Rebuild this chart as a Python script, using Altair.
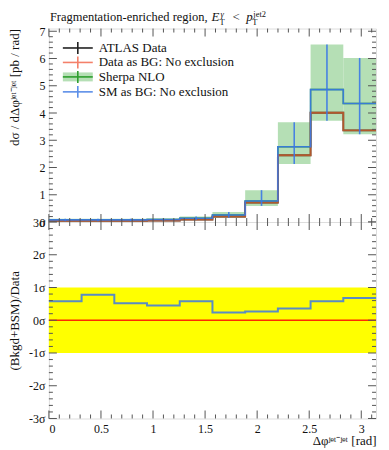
import altair as alt
import pandas as pd

PI = 3.141592653589793
# bin edges (10 bins of pi/10)
edges = [i * PI / 10 for i in range(11)]
centers = [(edges[i] + edges[i + 1]) / 2 for i in range(10)]

# top panel values (pb/rad)
data_vals = [0.04, 0.04, 0.04, 0.05, 0.09, 0.20, 0.71, 2.45, 4.01, 3.36]
sm_vals = [0.08, 0.08, 0.08, 0.09, 0.14, 0.26, 0.77, 2.76, 4.86, 4.35]
band_lo = [0.03, 0.03, 0.03, 0.04, 0.07, 0.16, 0.59, 2.13, 3.72, 3.22]
band_hi = [0.12, 0.12, 0.12, 0.13, 0.20, 0.37, 1.17, 3.66, 6.51, 6.02]
# lower panel (sigma)
ratio_sigma = [0.58, 0.78, 0.52, 0.45, 0.58, 0.24, 0.27, 0.36, 0.58, 0.68]

x_major = [0, 0.5, 1, 1.5, 2, 2.5, 3]
x_minor = [round(0.1 * i, 1) for i in range(32) if i % 5 != 0]
y1_major = [0, 1, 2, 3, 4, 5, 6, 7]
y1_minor = [round(0.2 * i, 1) for i in range(36) if i % 5 != 0]
y2_major = [-3, -2, -1, 0, 1, 2, 3]
y2_minor = [round(-3 + 0.2 * i, 1) for i in range(31) if i % 5 != 0]

legend_labels = ["ATLAS Data", "Data as BG: No exclusion", "Sherpa NLO", "SM as BG: No exclusion"]
legend_colors = ["#222222", "#f4806a", "#2e9e2e", "#5c8fe8"]

FONT = "Liberation Serif"
W, H1, H2 = 328, 194, 197
FRAME = "#555555"

xs = alt.Scale(domain=[0, PI], nice=False, zero=False)
ys1 = alt.Scale(domain=[0, 7.1], nice=False, zero=False)
ys2 = alt.Scale(domain=[-3, 3], nice=False, zero=False)

yaxis1 = alt.Axis(values=y1_major, ticks=False, tickSize=0, domain=False, grid=False,
                  labelPadding=4, labelFont=FONT, labelFontSize=12, labelColor="#111",
                  title="dσ / dΔφʲᵉᵗ⁻ʲᵉᵗ [pb / rad]", titleFont=FONT, titleFontSize=13,
                  titleFontWeight="normal", titleColor="#111", titleX=-34, titleY=0,
                  titleAlign="right", titleAngle=270, titleBaseline="middle")
yaxis2 = alt.Axis(values=y2_major, ticks=False, tickSize=0, domain=False, grid=False,
                  labelPadding=4, labelFont=FONT, labelFontSize=12, labelColor="#111",
                  labelExpr="datum.value + 'σ'",
                  title="(Bkgd+BSM)/Data", titleFont=FONT, titleFontSize=13,
                  titleFontWeight="normal", titleColor="#111", titleX=-34, titleY=H2 / 2,
                  titleAlign="center", titleAngle=270, titleBaseline="middle")
xaxis2 = alt.Axis(values=x_major, ticks=False, tickSize=0, domain=False, grid=False,
                  format="~g", labelPadding=5, labelFont=FONT, labelFontSize=12,
                  labelColor="#111", title="Δφʲᵉᵗ⁻ʲᵉᵗ [rad]", titleFont=FONT,
                  titleFontSize=13, titleFontWeight="normal", titleColor="#111",
                  titleX=W, titleY=26, titleAlign="right", titleBaseline="alphabetic")


def X(field, ax):
    if ax is None:
        return alt.X(field, scale=xs, axis=None)
    return alt.X(field, scale=xs, axis=ax)


def step_df(vals):
    return pd.DataFrame({"x": edges, "y": vals + [vals[-1]]})


band_df = pd.DataFrame({"lo": edges[:-1], "hi": edges[1:], "c": centers,
                        "blo": band_lo, "bhi": band_hi})

band = alt.Chart(band_df).mark_rect(color="#b5dfb5").encode(
    x=X("lo:Q", None), x2="hi:Q",
    y=alt.Y("blo:Q", scale=ys1, axis=yaxis1), y2="bhi:Q")


def step_line(vals, color, width, opacity=1.0):
    return alt.Chart(step_df(vals)).mark_line(
        interpolate="step-after", color=color, strokeWidth=width, opacity=opacity).encode(
        x=X("x:Q", None), y=alt.Y("y:Q", scale=ys1, axis=yaxis1))


green_line = step_line(sm_vals, "#2e9e2e", 1.5)
black_line = step_line(data_vals, "#222222", 1.8)
red_line = step_line(data_vals, "#f07030", 1.8, 0.7)
blue_line = step_line(sm_vals, "#3b78e7", 1.6, 0.9)
blue_err = alt.Chart(band_df).mark_rule(color="#3b78e7", strokeWidth=1.6, opacity=0.9).encode(
    x=X("c:Q", None), y=alt.Y("blo:Q", scale=ys1, axis=yaxis1), y2="bhi:Q")


def ticks(ys, yax, xax, h, ymaj, ymin):
    layers = []
    for vals, L in [(x_major, 8), (x_minor, 4)]:
        df = pd.DataFrame({"v": vals})
        layers.append(alt.Chart(df).mark_rule(color=FRAME, strokeWidth=1).encode(
            x=X("v:Q", xax), y=alt.value(h), y2=alt.value(h - L)))
        layers.append(alt.Chart(df).mark_rule(color=FRAME, strokeWidth=1).encode(
            x=X("v:Q", xax), y=alt.value(0), y2=alt.value(L)))
    for vals, L in [(ymaj, 8), (ymin, 4)]:
        df = pd.DataFrame({"v": vals})
        layers.append(alt.Chart(df).mark_rule(color=FRAME, strokeWidth=1).encode(
            y=alt.Y("v:Q", scale=ys, axis=yax), x=alt.value(0), x2=alt.value(L)))
        layers.append(alt.Chart(df).mark_rule(color=FRAME, strokeWidth=1).encode(
            y=alt.Y("v:Q", scale=ys, axis=yax), x=alt.value(W - L), x2=alt.value(W)))
    return layers


# legend
leg_y = [19.5, 34, 48.5, 63.5]
leg_layers = []
leg_layers.append(alt.Chart(pd.DataFrame({"a": [0]})).mark_rect(color="#b5dfb5").encode(
    x=alt.value(14), x2=alt.value(44), y=alt.value(leg_y[2] - 4.5), y2=alt.value(leg_y[2] + 4.5)))
for i, (lab, col) in enumerate(zip(legend_labels, legend_colors)):
    d = pd.DataFrame({"t": [lab]})
    leg_layers.append(alt.Chart(d).mark_rule(color=col, strokeWidth=1.6).encode(
        x=alt.value(14), x2=alt.value(44), y=alt.value(leg_y[i])))
    leg_layers.append(alt.Chart(d).mark_rule(color=col, strokeWidth=1.6).encode(
        x=alt.value(29), y=alt.value(leg_y[i] - 6), y2=alt.value(leg_y[i] + 6)))
    leg_layers.append(alt.Chart(d).mark_text(align="left", baseline="middle", font=FONT,
                                             fontSize=13, color="#111").encode(
        x=alt.value(50), y=alt.value(leg_y[i]), text="t:N"))

# title pieces
title_parts = [
    ("Fragmentation-enriched region,", 1, -8, 12.5, "normal"),
    ("E", 163, -8, 13, "italic"),
    ("γ", 172, -12, 8.5, "italic"),
    ("T", 171, -4, 8.5, "normal"),
    ("<", 184, -8, 13, "normal"),
    ("p", 198, -8, 13, "italic"),
    ("jet2", 205, -12, 8.5, "normal"),
    ("T", 204, -4, 8.5, "normal"),
]
title_layers = []
for txt, px, py, fs, st in title_parts:
    title_layers.append(alt.Chart(pd.DataFrame({"t": [txt]})).mark_text(
        align="left", baseline="alphabetic", font=FONT, fontSize=fs, fontStyle=st,
        color="#111").encode(x=alt.value(px), y=alt.value(py), text="t:N"))

top = alt.layer(band, green_line, black_line, red_line, blue_line, blue_err,
                *ticks(ys1, yaxis1, None, H1, y1_major, y1_minor),
                *leg_layers, *title_layers).properties(width=W, height=H1)

# lower panel
yellow = alt.Chart(pd.DataFrame({"lo": [-1], "hi": [1]})).mark_rect(color="#ffff00").encode(
    x=alt.value(0), x2=alt.value(W),
    y=alt.Y("lo:Q", scale=ys2, axis=yaxis2), y2="hi:Q")
zero_line = alt.Chart(pd.DataFrame({"v": [0]})).mark_rule(color="#ff2a00", strokeWidth=1.3).encode(
    x=alt.value(0), x2=alt.value(W), y=alt.Y("v:Q", scale=ys2, axis=yaxis2))
ratio_line = alt.Chart(step_df(ratio_sigma)).mark_line(
    interpolate="step-after", color="#5a8cc4", strokeWidth=2).encode(
    x=X("x:Q", xaxis2), y=alt.Y("y:Q", scale=ys2, axis=yaxis2))

bottom = alt.layer(yellow, zero_line, ratio_line,
                   *ticks(ys2, yaxis2, xaxis2, H2, y2_major, y2_minor)
                   ).properties(width=W, height=H2)

chart = alt.vconcat(top, bottom, spacing=0, bounds="flush").properties(padding=0).configure_view(
    stroke=FRAME, strokeWidth=1).configure(background="white")

chart.save("out.html", embed_options={"renderer": "svg", "actions": False})
